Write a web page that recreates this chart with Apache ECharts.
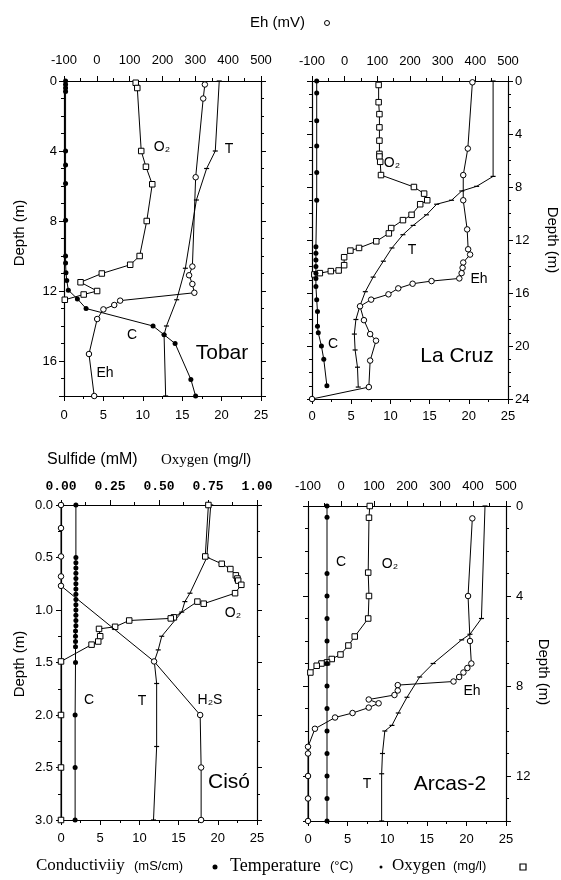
<!DOCTYPE html>
<html><head><meta charset="utf-8">
<script src="https://cdn.jsdelivr.net/npm/echarts@6/dist/echarts.min.js"></script>
<style>html,body{margin:0;padding:0;background:#fff}#c{width:561px;height:880px}</style>
</head><body><div id="c"></div>
<script>
// ---------- Tobar ----------
const tobarO2Depth = [0.1,0.4,4.0,4.9,5.9,8.0,10.0,10.5,11.0,11.5,12.0,12.2,12.5];
const tobarO2 = [9.1,9.3,9.8,10.4,11.2,10.5,9.6,8.4,4.8,2.1,4.2,2.5,0.1];
const tobarEhDepth = [0.2,1.0,5.5,10.6,11.1,11.6,12.1,12.55,12.8,13.05,13.6,15.6,18.0];
const tobarEh = [329,324,301,291,281,291,297,71,53,20,1,-24,-8];
const tobarTDepth = [0,4.0,5.0,6.8,10.7,12.5,14.0,14.5,18.0];
const tobarT = [19.7,19.2,18.1,16.8,15.4,14.3,13.0,12.7,12.9];
const tobarCDepth = [0,0.2,0.4,0.6,4.0,4.8,5.85,7.95,10.0,10.4,10.95,11.4,11.95,12.45,13.0,14.0,14.5,15.0,17.05,18.0];
const tobarC = [0.2,0.2,0.2,0.2,0.2,0.2,0.2,0.2,0.2,0.2,0.25,0.35,0.55,1.7,2.8,11.3,12.7,14.1,16.1,16.7];
// ---------- La Cruz ----------
const laCruzCDepth = [0,0.9,3.0,4.9,6.9,9.0,12.5,13.0,13.5,14.0,14.5,14.9,15.5,16.5,17.4,18.5,19.0,20.0,21.0,23.0];
const laCruzC = [0.6,0.6,0.6,0.6,0.6,0.6,0.5,0.5,0.5,0.5,0.5,0.5,0.5,0.6,0.7,0.7,0.8,1.2,1.5,1.9];
const laCruzO2Depth = [0.3,1.6,2.5,3.5,4.5,5.5,5.7,6.1,7.1,8.0,8.5,9.0,9.3,10.1,10.5,11.1,11.5,12.1,12.6,12.8,13.3,13.9,14.3,14.35,14.5,14.6];
const laCruzO2 = [8.5,8.5,8.6,8.6,8.6,8.6,8.6,8.7,8.8,13.0,14.3,14.7,13.8,12.7,11.6,10.1,9.8,8.2,6.0,4.9,4.1,4.1,3.4,2.4,1.0,0.3];
const laCruzEhDepth = [0.1,5.1,7.1,9.0,11.2,12.7,13.1,13.7,14.1,14.5,14.9,15.1,15.3,15.65,16.1,16.5,17.0,18.05,19.1,19.6,21.1,23.1,24.0];
const laCruzEh = [391,377,363,363,375,378,384,363,361,358,351,266,208,164,134,81,47,59,78,96,78,74,-100];
const laCruzTDepth = [0,7.2,7.95,8.3,9.0,9.3,10.1,10.9,11.6,12.6,13.6,14.8,15.9,17.0,18.0,19.1,20.3,21.6,23.1];
const laCruzT = [23.1,23.1,21.0,19.1,17.8,15.9,14.6,12.9,11.6,10.2,9.1,7.8,6.8,6.1,5.6,5.4,5.5,5.8,5.9];
// ---------- Ciso ----------
const cisoCDepth = [0,0.5,0.55,0.6,0.65,0.7,0.75,0.8,0.85,0.9,0.95,1.0,1.05,1.1,1.15,1.2,1.25,1.3,1.35,1.5,2.0,2.5,3.0];
const cisoC = [1.9,1.9,1.9,1.9,1.9,1.9,1.9,1.9,1.9,1.9,1.9,1.9,1.9,1.9,1.9,1.85,1.85,1.85,1.85,1.85,1.8,1.8,1.8];
const cisoO2Depth = [0,0.49,0.56,0.61,0.67,0.70,0.72,0.76,0.84,0.94,0.92,1.07,1.08,1.10,1.16,1.18,1.25,1.30,1.33,1.49,2.0,2.5,3.0];
const cisoO2 = [18.8,18.4,20.5,21.6,22.3,22.5,22.6,23.0,22.2,18.2,17.4,14.4,14.0,8.7,6.9,4.85,5.0,4.75,3.9,0,0,0,0];
const cisoH2SDepth = [0,0.22,0.49,0.68,0.77,1.49,2.0,2.5,3.0];
const cisoH2S = [0,0,0,0,0,0.475,0.71,0.715,0.715];
const cisoTDepth = [0,0.5,0.84,0.92,1.02,1.25,1.38,1.49,1.7,2.3,3.0];
const cisoT = [19.1,18.6,16.45,15.8,15.4,12.85,12.4,11.9,12.2,12.2,11.8];
// ---------- Arcas-2 ----------
const arcasCDepth = [0,0.5,3,4,5,6,7,8,9,10,11,12,13,14];
const arcasC = [2.4,2.4,2.4,2.4,2.4,2.4,2.4,2.4,2.4,2.4,2.4,2.4,2.4,2.4];
const arcasO2Depth = [0,0.52,2.96,4.0,5.0,5.8,6.2,6.6,6.8,6.95,7.0,7.1,7.4];
const arcasO2 = [7.8,7.7,7.6,7.7,7.6,5.9,5.1,4.1,3.0,2.4,1.7,1.1,0.3];
const arcasEhDepth = [0.55,4.0,6.0,7.0,7.2,7.4,7.6,7.8,7.96,8.2,8.4,8.6,8.77,8.96,9.2,9.4,9.9,10.7,11.0,12.0,13.0,14.0];
const arcasEh = [398,385,391,395,383,371,358,341,172,172,162,84,114,84,35,-18,-79,-100,-100,-100,-100,-100];
const arcasTDepth = [0,5.0,5.7,5.95,7.0,7.6,8.5,9.2,9.75,10.0,11.0,11.9,14.0];
const arcasT = [22.35,21.9,20.45,19.4,15.8,14.1,12.5,11.4,10.6,9.7,9.4,9.3,9.3];
// ---------- tick labels ----------
const bottomTicks = [0,5,10,15,20,25];
const ehTicks = [-100,0,100,200,300,400,500];
const sulfideTicks = [0,0.25,0.5,0.75,1.0];
const tobarDepthTicks = [0,4,8,12,16];
const laCruzDepthTicks = [0,4,8,12,16,20,24];
const cisoDepthTicks = [0,0.5,1.0,1.5,2.0,2.5,3.0];
const arcasDepthTicks = [0,4,8,12];

const FONT = '"Liberation Sans", Arial, sans-serif';
const SERIF = '"Liberation Serif", "Times New Roman", serif';
const MONO = '"Liberation Mono", "Courier New", monospace';
const BLACK = '#000';

function fmtFor(ticks, fmt){
  return v => ticks.some(t => Math.abs(t - v) < 1e-6) ? fmt(v) : '';
}
function axisCommon(){
  return {
    axisLine:{show:true,onZero:false,lineStyle:{color:BLACK,width:1.2}},
    axisTick:{show:true,inside:false,length:5,lineStyle:{color:BLACK,width:1}},
    splitLine:{show:false}, minorSplitLine:{show:false}
  };
}
function mkX(g, pos, min, max, interval, split, ticks, fmt, margin, show, font, weight){
  return Object.assign(axisCommon(), {
    type:'value', gridIndex:g, position:pos, min:min, max:max, interval:interval,
    minorTick:{show:true,splitNumber:split,length:3,lineStyle:{color:BLACK,width:1}},
    axisLabel:{show:show, margin:margin, color:BLACK, fontSize:13, fontFamily:font||FONT, fontWeight:weight||'normal',
      showMinLabel:true, showMaxLabel:true, formatter: fmtFor(ticks, fmt)}
  });
}
function mkY(g, pos, max, interval, split, ticks, fmt, margin, show){
  return Object.assign(axisCommon(), {
    type:'value', gridIndex:g, position:pos, inverse:true, min:0, max:max, interval:interval,
    minorTick:{show:true,splitNumber:split,length:3,lineStyle:{color:BLACK,width:1}},
    axisLabel:{show:show, margin:margin, color:BLACK, fontSize:13, fontFamily:FONT,
      showMinLabel:true, showMaxLabel:true, formatter: fmtFor(ticks, fmt)}
  });
}
const intF = v => String(Math.round(v));
const d1 = v => v.toFixed(1);
const d2 = v => v.toFixed(2);

const grids = [
  {left:64, top:81, width:197, height:315},
  {left:312, top:81, width:196, height:318},
  {left:61, top:505, width:196, height:315},
  {left:308, top:506, width:198, height:315}
];

const xAxes = [
  mkX(0,'bottom',0,25,5,2,bottomTicks,intF,13,true),
  mkX(0,'top',-100,500,100,2,ehTicks,intF,14,true),
  mkX(1,'bottom',0,25,5,2,bottomTicks,intF,11,true),
  mkX(1,'top',-100,500,100,2,ehTicks,intF,13,true),
  mkX(2,'bottom',0,25,5,2,bottomTicks,intF,12,true),
  mkX(2,'top',0,1,0.25,2,sulfideTicks,d2,12,true,MONO,'bold'),
  mkX(3,'bottom',0,25,5,2,bottomTicks,intF,12,true),
  mkX(3,'top',-100,500,100,2,ehTicks,intF,13,true)
];
const yAxes = [
  mkY(0,'left',18,4,4,tobarDepthTicks,intF,7,true),
  mkY(0,'right',18,4,4,tobarDepthTicks,intF,7,false),
  mkY(1,'right',24,4,4,laCruzDepthTicks,intF,7,true),
  mkY(1,'left',24,4,4,laCruzDepthTicks,intF,7,false),
  mkY(2,'left',3,0.5,2,cisoDepthTicks,d1,8,true),
  mkY(2,'right',3,0.5,2,cisoDepthTicks,d1,8,false),
  mkY(3,'right',14,4,4,arcasDepthTicks,intF,10,true),
  mkY(3,'left',14,4,4,arcasDepthTicks,intF,10,false)
];

function zip(vals, depths){ return vals.map((v,i)=>[v, depths[i]]); }
const STY = {
  open:{symbol:'circle',symbolSize:5.5,itemStyle:{color:'#fff',borderColor:BLACK,borderWidth:1}},
  square:{symbol:'rect',symbolSize:5.5,itemStyle:{color:'#fff',borderColor:BLACK,borderWidth:1}},
  filled:{symbol:'circle',symbolSize:5,itemStyle:{color:BLACK,borderColor:BLACK,borderWidth:0}},
  temp:{symbol:'rect',symbolSize:[5,1.2],itemStyle:{color:BLACK,borderWidth:0}}
};
function ser(g, top, vals, depths, kind, z){
  const s = STY[kind];
  return {
    type:'line', xAxisIndex:2*g+(top?1:0), yAxisIndex:2*g, data:zip(vals,depths),
    symbol:s.symbol, symbolSize:s.symbolSize, showSymbol:true, itemStyle:s.itemStyle,
    lineStyle:{color:BLACK,width:1}, animation:false, silent:true, z:z||2,
    emphasis:{disabled:true}
  };
}
const series = [
  ser(0,false,tobarT,tobarTDepth,'temp',1),
  ser(0,false,tobarO2,tobarO2Depth,'square',2),
  ser(0,true,tobarEh,tobarEhDepth,'open',3),
  ser(0,false,tobarC,tobarCDepth,'filled',4),
  ser(1,false,laCruzT,laCruzTDepth,'temp',1),
  ser(1,false,laCruzO2,laCruzO2Depth,'square',2),
  ser(1,true,laCruzEh,laCruzEhDepth,'open',3),
  ser(1,false,laCruzC,laCruzCDepth,'filled',4),
  ser(2,false,cisoT,cisoTDepth,'temp',1),
  ser(2,false,cisoO2,cisoO2Depth,'square',2),
  ser(2,true,cisoH2S,cisoH2SDepth,'open',3),
  ser(2,false,cisoC,cisoCDepth,'filled',4),
  ser(3,false,arcasT,arcasTDepth,'temp',1),
  ser(3,false,arcasO2,arcasO2Depth,'square',2),
  ser(3,true,arcasEh,arcasEhDepth,'open',3),
  ser(3,false,arcasC,arcasCDepth,'filled',4)
];

function txt(x,y,text,size,opts){
  opts = opts||{};
  return {type:'text', x:x, y:y, rotation:opts.rot||0, silent:true, z:10,
    style:{text:text, fill:BLACK, font:(opts.weight||'')+' '+size+'px '+(opts.family||FONT),
      align:opts.align||'center', verticalAlign:'middle'}};
}
const graphic = [
  txt(250,23,'Eh (mV)',15,{align:'left'}),
  {type:'circle', shape:{cx:327,cy:23,r:2.5}, style:{fill:'#fff',stroke:BLACK,lineWidth:1}},
  // Tobar
  txt(162,147,'O\u2082',14), txt(229,149,'T',14), txt(132,335,'C',14), txt(105,373,'Eh',14),
  txt(222,353,'Tobar',21),
  // La Cruz
  txt(392,163,'O\u2082',14), txt(412,250,'T',14), txt(479,279,'Eh',14), txt(333,344,'C',14),
  txt(457,356,'La Cruz',21),
  // Ciso
  txt(233,613,'O\u2082',14), txt(89,700,'C',14), txt(142,701,'T',14), txt(210,700,'H\u2082S',14),
  txt(229,782,'Cisó',21),
  // Arcas
  txt(341,562,'C',14), txt(390,564,'O\u2082',14), txt(472,691,'Eh',14), txt(367,784,'T',14),
  txt(450,784,'Arcas-2',21),
  // depth names
  txt(20,233,'Depth (m)',15,{rot:Math.PI/2}),
  txt(552,240,'Depth (m)',15,{rot:-Math.PI/2}),
  txt(20,664,'Depth (m)',15,{rot:Math.PI/2}),
  txt(543,672,'Depth (m)',15,{rot:-Math.PI/2}),
  // Ciso top title
  txt(47,460,'Sulfide (mM)',16,{align:'left'}),
  txt(161,460,'Oxygen',15,{align:'left',family:SERIF}),
  txt(213,460,'(mg/l)',15,{align:'left'}),
  // bottom legend
  txt(36,866,'Conductiviiy',17,{align:'left',family:SERIF}),
  txt(134,866,'(mS/cm)',13,{align:'left'}),
  {type:'circle', shape:{cx:215,cy:867,r:2.5}, style:{fill:BLACK}},
  txt(230,866,'Temperature',18,{align:'left',family:SERIF}),
  txt(330,866,'(°C)',13,{align:'left'}),
  {type:'circle', shape:{cx:381,cy:867,r:1.5}, style:{fill:BLACK}},
  txt(392,866,'Oxygen',17,{align:'left',family:SERIF}),
  txt(453,866,'(mg/l)',13,{align:'left'}),
  {type:'rect', shape:{x:520,y:864,width:6,height:6}, style:{fill:'#fff',stroke:BLACK,lineWidth:1.2}}
];

const chart = echarts.init(document.getElementById('c'), null, {renderer:'canvas'});
chart.setOption({
  backgroundColor:'#fff', animation:false,
  grid: grids, xAxis: xAxes, yAxis: yAxes, series: series, graphic: graphic
});
</script></body></html>
